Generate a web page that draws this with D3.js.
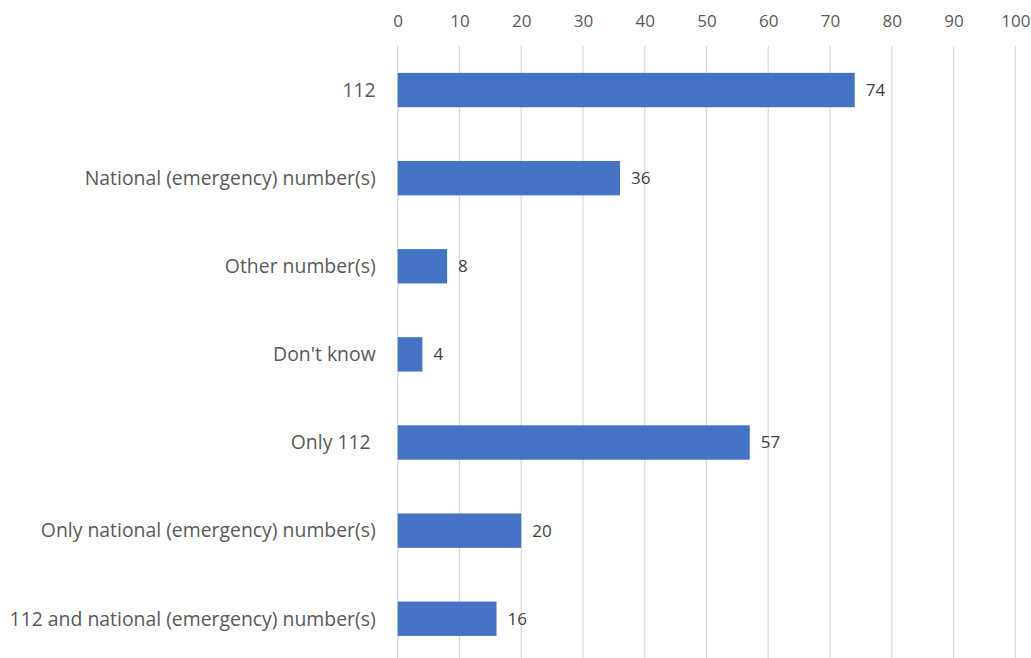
<!DOCTYPE html>
<html>
<head>
<meta charset="utf-8">
<script src="https://cdn.jsdelivr.net/npm/d3@7"></script>
<style>
  html, body { margin: 0; padding: 0; background: #fff; }
  svg text { font-family: "Open Sans", "Noto Sans", sans-serif; }
</style>
</head>
<body>
<svg id="chart" width="1031" height="658"></svg>
<script>
const categories = [
  "112",
  "National (emergency) number(s)",
  "Other number(s)",
  "Don't know",
  "Only 112 ",
  "Only national (emergency) number(s)",
  "112 and national (emergency) number(s)"
];
const values = [74, 36, 8, 4, 57, 20, 16];
const tickValues = [0, 10, 20, 30, 40, 50, 60, 70, 80, 90, 100];

const svg = d3.select("#chart");
const margin = { left: 397.7, right: 15.7, top: 46, bottom: -4.8 };
const W = 1031, H = 658;

const x = d3.scaleLinear().domain([0, 100]).range([margin.left, W - margin.right]);
const y = d3.scaleBand().domain(categories)
  .range([margin.top, H - margin.bottom])
  .paddingInner(0.61).paddingOuter(0.305);

// vertical gridlines
svg.append("g")
  .selectAll("line")
  .data(tickValues)
  .join("line")
  .attr("x1", d => x(d)).attr("x2", d => x(d))
  .attr("y1", margin.top).attr("y2", H)
  .attr("stroke", "#d9d9d9").attr("stroke-width", 1.2);

// top axis labels
const axis = d3.axisTop(x).tickValues(tickValues).tickSize(0).tickPadding(0);
const ga = svg.append("g").attr("transform", "translate(0,27)").call(axis);
ga.select(".domain").remove();
ga.selectAll("text")
  .attr("fill", "#595959")
  .style("font-size", "17px")
  .style("font-family", "'Open Sans', sans-serif");

// bars
svg.append("g")
  .selectAll("rect")
  .data(values)
  .join("rect")
  .attr("x", x(0))
  .attr("y", (d, i) => y(categories[i]))
  .attr("width", d => x(d) - x(0))
  .attr("height", y.bandwidth())
  .attr("fill", "#4472c4");

// value labels
svg.append("g")
  .selectAll("text")
  .data(values)
  .join("text")
  .attr("x", d => x(d) + 11)
  .attr("y", (d, i) => y(categories[i]) + y.bandwidth() / 2)
  .attr("dy", "0.35em")
  .attr("fill", "#404040")
  .style("font-size", "17px")
  .text(d => d);

// category labels
svg.append("g")
  .selectAll("text")
  .data(categories)
  .join("text")
  .attr("x", x(0) - 22)
  .attr("y", d => y(d) + y.bandwidth() / 2)
  .attr("dy", "0.35em")
  .attr("text-anchor", "end")
  .attr("fill", "#595959")
  .style("font-size", "19.4px")
  .style("white-space", "pre")
  .text(d => d);
</script>
</body>
</html>
